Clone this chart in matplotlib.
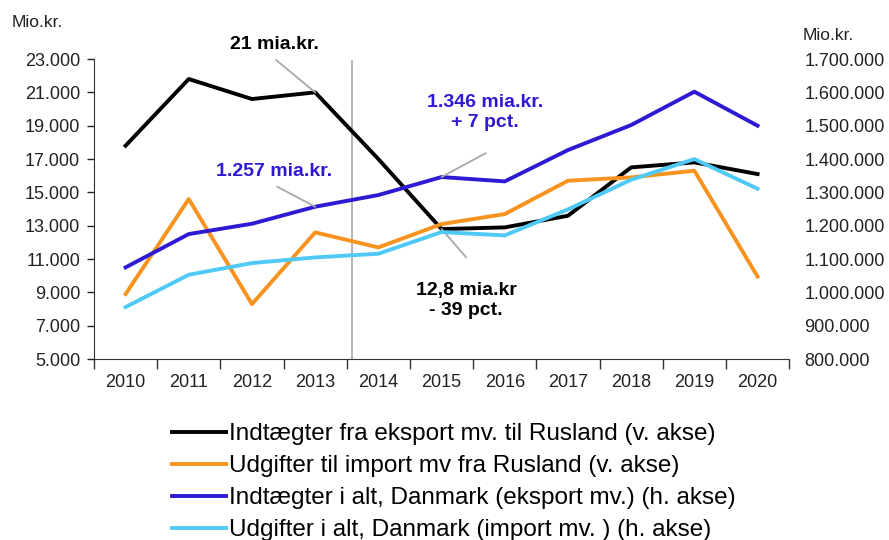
import matplotlib.pyplot as plt
from matplotlib.ticker import FuncFormatter, FixedLocator

plt.rcParams['font.family'] = ['Liberation Sans', 'DejaVu Sans']

years = [str(y) for y in range(2010, 2021)]

# Mio. kr., left axis
eksport_rusland = [17800, 21800, 20600, 21000, 17000, 12800, 12900, 13600, 16500, 16800, 16100]
import_rusland = [8900, 14600, 8300, 12600, 11700, 13100, 13700, 15700, 15900, 16300, 9950]

# Mio. kr., right axis
eksport_dk = [1075000, 1175000, 1206000, 1257000, 1292000, 1346000, 1333000, 1427000, 1502000, 1602000, 1500000]
import_dk = [956000, 1053000, 1088000, 1105000, 1116000, 1181000, 1171000, 1249000, 1338000, 1400000, 1311000]

labels = [
    "Indtægter fra eksport mv. til Rusland (v. akse)",
    "Udgifter til import mv fra Rusland (v. akse)",
    "Indtægter i alt, Danmark (eksport mv.) (h. akse)",
    "Udgifter i alt, Danmark (import mv. ) (h. akse)",
]
colors = ["#000000", "#F7931E", "#2E1AD2", "#4FC9F6"]


def dk_fmt(v, pos=None):
    return f"{v:,.0f}".replace(",", ".")


fig = plt.figure(figsize=(8.89, 5.4), dpi=100)
ax = fig.add_axes([0.1057, 0.335, 0.782, 0.5557])
ax2 = ax.twinx()

x = list(range(len(years)))
l1, = ax.plot(x, eksport_rusland, color=colors[0], lw=2.8, label=labels[0])
l2, = ax.plot(x, import_rusland, color=colors[1], lw=2.8, label=labels[1])
l3, = ax2.plot(x, eksport_dk, color=colors[2], lw=2.8, label=labels[2])
l4, = ax2.plot(x, import_dk, color=colors[3], lw=2.8, label=labels[3])

ax.set_xlim(-0.5, len(years) - 0.5)
ax.set_ylim(5000, 23000)
ax.set_yticks(range(5000, 23001, 2000))
ax.yaxis.set_major_formatter(FuncFormatter(dk_fmt))
ax2.set_ylim(800000, 1700000)
ax2.set_yticks(range(800000, 1700001, 100000))
ax2.yaxis.set_major_formatter(FuncFormatter(dk_fmt))

ax.set_xticks(x)
ax.set_xticklabels(years)
ax.xaxis.set_minor_locator(FixedLocator([i - 0.5 for i in range(len(years) + 1)]))
ax.tick_params(axis='x', which='major', length=0, pad=11, labelsize=13, colors='#222222')
ax.tick_params(axis='x', which='minor', length=7, width=1, color='#333333')
ax.tick_params(axis='y', length=5, width=1, labelsize=13, colors='#222222', pad=5)
ax2.tick_params(axis='y', length=0, labelsize=13, colors='#222222', pad=11)

for a in (ax, ax2):
    a.spines['top'].set_visible(False)
    a.spines['right'].set_visible(False)
ax2.spines['left'].set_visible(False)
ax2.spines['bottom'].set_visible(False)
ax.spines['left'].set_color('#333333')
ax.spines['bottom'].set_color('#333333')

# Break line
ax.axvline(3.58, ymax=0.995, color='#A8A8A8', lw=1.2, zorder=1)

# Annotations
lead = dict(arrowstyle='-', color='#A8A8A8', lw=1.3, shrinkA=0, shrinkB=0)
ax.annotate("21 mia.kr.", xy=(3, 21000), xytext=(2.36, 23900), textcoords='data',
            ha='center', va='center', fontsize=14, fontweight='bold', color='#000000',
            annotation_clip=False)
ax.annotate("", xy=(3, 21000), xytext=(2.38, 22950), arrowprops=lead, annotation_clip=False)

ax2.annotate("1.257 mia.kr.", xy=(3, 1257000), xytext=(2.35, 1362000),
             ha='center', va='center', fontsize=14, fontweight='bold', color=colors[2])
ax2.annotate("", xy=(3, 1257000), xytext=(2.4, 1317000), arrowprops=lead)

ax2.annotate("1.346 mia.kr.\n+ 7 pct.", xy=(5, 1346000), xytext=(5.69, 1540000),
             ha='center', va='center', fontsize=14, fontweight='bold', color=colors[2],
             linespacing=1.2)
ax2.annotate("", xy=(5, 1346000), xytext=(5.7, 1418000), arrowprops=lead)

ax.annotate("12,8 mia.kr\n- 39 pct.", xy=(5, 12800), xytext=(5.39, 8500),
            ha='center', va='center', fontsize=14, fontweight='bold', color='#000000',
            linespacing=1.2)
ax.annotate("", xy=(5, 12800), xytext=(5.39, 11100), arrowprops=lead)

fig.text(0.013, 0.958, "Mio.kr.", fontsize=12.5, color='#222222', va='center')
fig.text(0.903, 0.935, "Mio.kr.", fontsize=12.5, color='#222222', va='center')

fig.legend(handles=[l1, l2, l3, l4], loc='upper left', bbox_to_anchor=(0.194, 0.216),
           frameon=False, fontsize=17.5, handlelength=2.2, handletextpad=0.12,
           labelspacing=0.41, borderaxespad=0, borderpad=0)

fig.savefig("out.png", dpi=100)
